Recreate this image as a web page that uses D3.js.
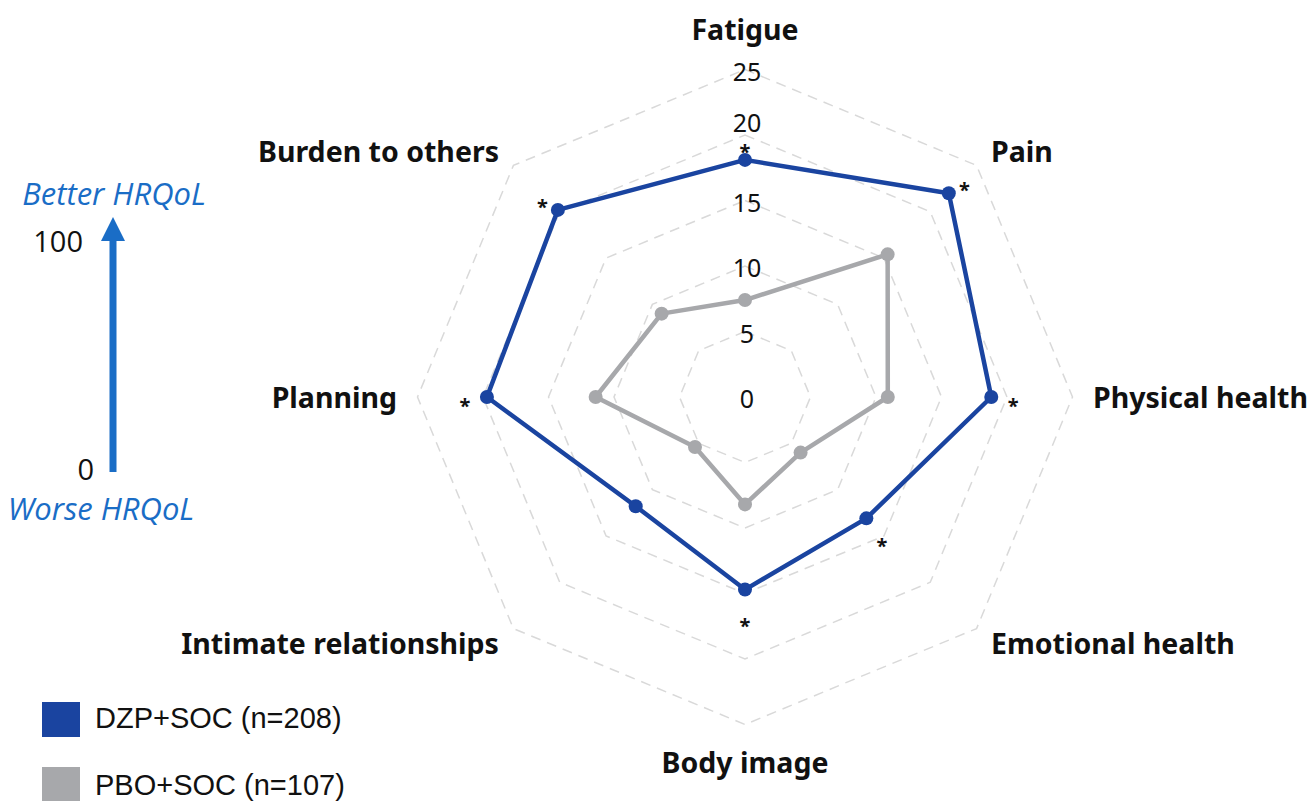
<!DOCTYPE html>
<html>
<head>
<meta charset="utf-8">
<script src="https://cdn.jsdelivr.net/npm/d3@7"></script>
<style>
  body { margin: 0; background: #fff; }
  svg { display: block; }
</style>
</head>
<body>
<div id="radar-graph"></div>
<script>
// Domains and scores
const axes = ["Fatigue", "Pain", "Physical health", "Emotional health", "Body image", "Intimate relationships", "Planning", "Burden to others"];
const dzpValues = [18.1, 22.0, 18.8, 13.1, 14.7, 11.8, 19.7, 20.2];
const pboValues = [7.4, 15.4, 10.9, 6.0, 8.2, 5.4, 11.4, 9.0];
const significant = [true, true, true, true, true, false, true, true];
const ringTicks = [0, 5, 10, 15, 20, 25];
const legendLabels = ["DZP+SOC (n=208)", "PBO+SOC (n=107)"];

const width = 1312;
const height = 801;
const cx = 745;
const cy = 397;
const blue = "#1a44a0";
const gray = "#a7a8ab";
const arrowBlue = "#1a6dc6";

const svg = d3.select("#radar-graph")
  .append("svg")
  .attr("width", width)
  .attr("height", height);

const rScale = d3.scaleLinear()
  .domain([0, 25])
  .range([0, 327.5]);

const angle = (i) => i * 2 * Math.PI / axes.length;

const chart = svg.append("g")
  .attr("transform", `translate(${cx},${cy})`);

const radial = d3.lineRadial()
  .angle((d, i) => angle(i))
  .radius((d) => rScale(d))
  .curve(d3.curveLinearClosed);

// Dashed octagon rings
chart.selectAll("path.ring")
  .data(ringTicks.filter((t) => t > 0))
  .enter()
  .append("path")
  .attr("class", "ring")
  .attr("d", (t) => radial(axes.map(() => t)))
  .attr("fill", "none")
  .attr("stroke", "#d9d9d9")
  .attr("stroke-width", 1.5)
  .attr("stroke-dasharray", "10,7");

// asterisk centre for a given axis/value
const starPos = (v, i) => {
  const a = angle(i);
  const r = rScale(v) + 22;
  return {
    x: r * Math.sin(a),
    y: -r * Math.cos(a) + 4 + 5 * Math.abs(Math.cos(a))
  };
};

// Ring value labels (nudged up if they would sit on the Fatigue asterisk)
const topStarY = significant[0] ? starPos(dzpValues[0], 0).y : -1000;

chart.selectAll("text.tick")
  .data(ringTicks)
  .enter()
  .append("text")
  .attr("class", "tick")
  .attr("x", 2)
  .attr("y", (t) => {
    let y = -rScale(t) + 1;
    if (Math.abs(y - topStarY) < 25) y = topStarY - 25;
    return y;
  })
  .attr("text-anchor", "middle")
  .attr("dominant-baseline", "central")
  .style("font-family", "'Noto Sans', sans-serif")
  .style("font-size", "25px")
  .style("fill", "#111")
  .text((t) => t);

// Series polygons + dots
const series = [
  { values: pboValues, color: gray },
  { values: dzpValues, color: blue }
];

series.forEach((s) => {
  chart.append("path")
    .attr("d", radial(s.values))
    .attr("fill", "none")
    .attr("stroke", s.color)
    .attr("stroke-width", 4.5)
    .attr("stroke-linejoin", "round");

  chart.selectAll(null)
    .data(s.values)
    .enter()
    .append("circle")
    .attr("cx", (d, i) => rScale(d) * Math.sin(angle(i)))
    .attr("cy", (d, i) => -rScale(d) * Math.cos(angle(i)))
    .attr("r", 7)
    .style("fill", s.color);
});

// Significance asterisks next to the DZP points
chart.selectAll("text.sig")
  .data(dzpValues.map((v, i) => ({ v, i })).filter((d) => significant[d.i]))
  .enter()
  .append("text")
  .attr("class", "sig")
  .attr("x", (d) => starPos(d.v, d.i).x)
  .attr("y", (d) => starPos(d.v, d.i).y + 12)
  .attr("text-anchor", "middle")
  .style("font-family", "'Noto Sans', sans-serif")
  .style("font-weight", "bold")
  .style("font-size", "20px")
  .style("fill", "#111")
  .text("*");

// Domain labels
chart.selectAll("text.axis-label")
  .data(axes)
  .enter()
  .append("text")
  .attr("class", "axis-label")
  .attr("x", (d, i) => 348 * Math.sin(angle(i)))
  .attr("y", (d, i) => {
    const c = Math.cos(angle(i));
    const r = Math.abs(c) > 0.99 ? 368 : 348;
    return -r * c - (c < -0.99 ? 3 : 0);
  })
  .attr("text-anchor", (d, i) => {
    const sx = Math.sin(angle(i));
    return Math.abs(sx) < 0.01 ? "middle" : (sx > 0 ? "start" : "end");
  })
  .attr("dominant-baseline", "central")
  .style("font-family", "'Noto Sans', sans-serif")
  .style("font-weight", "bold")
  .style("font-size", "28.5px")
  .style("fill", "#111")
  .text((d) => d);

// HRQoL direction arrow on the left
const arrow = svg.append("g");

arrow.append("line")
  .attr("x1", 113)
  .attr("x2", 113)
  .attr("y1", 472)
  .attr("y2", 236)
  .attr("stroke", arrowBlue)
  .attr("stroke-width", 7);

arrow.append("path")
  .attr("d", "M101,241 L125,241 L113,217 Z")
  .attr("fill", arrowBlue);

arrow.append("text")
  .attr("x", 114)
  .attr("y", 205)
  .attr("text-anchor", "middle")
  .style("font-family", "'Open Sans', sans-serif")
  .style("font-style", "italic")
  .style("font-size", "31px")
  .style("fill", arrowBlue)
  .text("Better HRQoL");

arrow.append("text")
  .attr("x", 101)
  .attr("y", 520)
  .attr("text-anchor", "middle")
  .style("font-family", "'Open Sans', sans-serif")
  .style("font-style", "italic")
  .style("font-size", "31px")
  .style("fill", arrowBlue)
  .text("Worse HRQoL");

arrow.append("text")
  .attr("x", 83)
  .attr("y", 252)
  .attr("text-anchor", "end")
  .style("font-family", "'Open Sans', sans-serif")
  .style("font-size", "29px")
  .style("fill", "#111")
  .text("100");

arrow.append("text")
  .attr("x", 94)
  .attr("y", 480)
  .attr("text-anchor", "end")
  .style("font-family", "'Open Sans', sans-serif")
  .style("font-size", "29px")
  .style("fill", "#111")
  .text("0");

// Legend
const legend = svg.append("g")
  .attr("transform", "translate(42,702)");

const legendColors = [blue, gray];

legend.selectAll("rect")
  .data(legendLabels)
  .enter()
  .append("rect")
  .attr("x", 0)
  .attr("y", (d, i) => i * 65)
  .attr("width", 38)
  .attr("height", 35)
  .style("fill", (d, i) => legendColors[i]);

legend.selectAll("text")
  .data(legendLabels)
  .enter()
  .append("text")
  .attr("x", 53)
  .attr("y", (d, i) => i * 67 + 26)
  .style("font-family", "'Liberation Sans', Arial, sans-serif")
  .style("font-size", "29px")
  .style("fill", "#111")
  .text((d) => d);
</script>
</body>
</html>
